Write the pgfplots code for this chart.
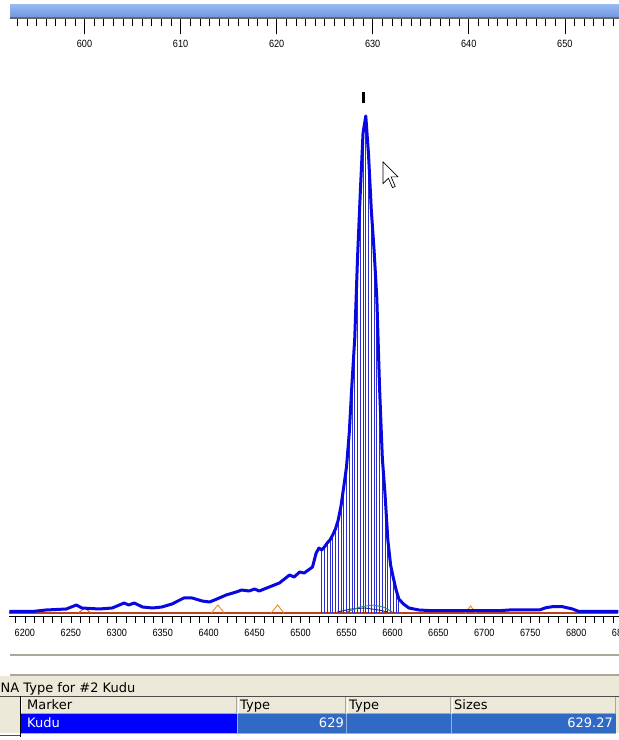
\documentclass[border=0pt]{standalone}
\usepackage{pgfplots}
\pgfplotsset{compat=1.18}
\usepackage{pgfplotstable}
\usepackage{fontspec}
\setmainfont{DejaVu Sans}
\newfontfamily\tickfont[FakeStretch=0.87]{Liberation Sans}
\newfontfamily\uifont{DejaVu Sans}
\definecolor{trace}{RGB}{8,8,225}
\definecolor{stick}{RGB}{45,45,205}
\definecolor{basered}{RGB}{192,62,30}
\definecolor{humporange}{RGB}{228,140,40}
\definecolor{humpgreen}{RGB}{40,140,115}
\definecolor{humpnavy}{RGB}{25,35,120}
\definecolor{barlight}{RGB}{150,184,240}
\definecolor{bardark}{RGB}{112,150,222}
\definecolor{beige}{RGB}{236,233,216}
\definecolor{bordergray}{RGB}{172,168,153}
\definecolor{selblue}{RGB}{0,0,255}
\definecolor{rowblue}{RGB}{49,106,197}
\definecolor{rowsep}{RGB}{150,175,225}

\pgfplotstableread{
x y
6183 1.5
6208 1.5
6223 3
6245 4
6256 8
6262 5
6281 4
6295 5
6308 10
6313 8
6319 10
6328 6
6339 5
6349 6
6360 9
6373 15
6382 15
6393 12
6401 11
6409 14
6419 18
6430 21
6436 23
6444 22
6450 24
6455 22
6466 26
6477 30
6488 38
6493 36
6499 41
6504 40
6513 46
6517 60
6520 65
6523 63
6526 66
6529 70
6532 73
6535 78
6538 84
6541 93
6544 107
6547 126
6550 146
6553 180
6556 230
6559 275
6562 355
6565 420
6568 480
6571 497
6574 458
6577 403
6580 363
6583 315
6586 225
6589 155
6592 118
6595 73
6598 48
6601 35
6604 23
6607 14
6612 9
6618 5
6629 3
6643 2.3
6716 2.3
6727 3
6760 3
6767 5.3
6774 6.3
6785 6.3
6796 4
6803 1.5
6846 1.5
}\tracedata

\begin{document}
\begin{tikzpicture}[x=1pt,y=1pt]
\useasboundingbox (0,0) rectangle (619,740);
\fill[white] (0,0) rectangle (619,740);

% main electropherogram
\begin{axis}[at={(10,124)}, anchor=south west, scale only axis,
  width=614.8pt, height=543pt, xmin=6182.9, xmax=6852, ymin=-3, ymax=540,
  axis x line*=bottom, axis y line=none, axis line style={black, line width=0.6pt},
  xtick={6200,6250,...,6850}, minor xtick={6190,6200,...,6850},
  tick align=outside, major tick length=7pt, minor tick length=7pt,
  tick style={black, line width=0.6pt},
  /pgf/number format/assume math mode=true,
  /pgf/number format/set thousands separator={},
  xticklabel style={font=\tickfont\fontsize{10.5}{10.5}\selectfont, inner sep=0pt, anchor=north, yshift=-6pt},
  clip=false]
  % red baseline
  \addplot[basered, line width=2.5pt] coordinates {(6182.9,0) (6846,0)};
  % small coloured peaks near baseline
  \addplot[humporange, line width=0.9pt] coordinates {(6403,0) (6410,8) (6417,0)};
  \addplot[humporange, line width=0.9pt] coordinates {(6468,0) (6475,8) (6482,0)};
  \addplot[humporange, line width=0.9pt] coordinates {(6679,0) (6685,7) (6691,0)};
  \addplot[humporange!60!red, line width=0.9pt] coordinates {(6258,0) (6265,5) (6272,0)};
  % filled sticks under the peak
  \addplot[ycomb, stick, line width=0.9pt, restrict x to domain=6521:6608] table[x=x, y=y] {\tracedata};
  \addplot[humpnavy, line width=0.9pt] coordinates {(6540,1) (6555,4) (6570,5) (6585,3) (6595,1)};
  \addplot[humpgreen, line width=0.9pt] coordinates {(6550,1) (6565,6) (6578,8) (6590,6) (6600,1)};
  % trace
  \addplot[trace, line width=3pt, line join=round] table[x=x, y=y] {\tracedata};
  % peak label marker
  \addplot[black, line width=3pt] coordinates {(6569,510) (6569,521)};
\end{axis}

% top ruler (size scale)
\begin{scope}[yshift=721.5pt]
\begin{axis}[at={(10,0)}, anchor=south west, scale only axis,
  width=609pt, height=12pt, xmin=592.2, xmax=655.6, ymin=0, ymax=12,
  axis x line*=bottom, axis y line=none,
  axis line style={black!60, line width=0.6pt},
  xtick={600,610,...,650}, minor xtick={593,594,...,655},
  tick align=outside, major tick length=16pt, minor tick length=8pt,
  tick style={black, line width=0.6pt},
  /pgf/number format/assume math mode=true,
  /pgf/number format/set thousands separator={},
  xticklabel style={font=\tickfont\fontsize{10.5}{10.5}\selectfont, inner sep=0pt, anchor=north, yshift=-5pt}]
  \addplot[draw=none, mark=none] coordinates {(592.2,0) (655.6,12)};
\end{axis}
\end{scope}
% top ruler bar
\shade[top color=barlight, bottom color=bardark] (10,735) rectangle (619,722.5);
\draw[color=bardark!70!black, line width=0.6pt] (10,722.5) -- (619,722.5);

% mouse cursor
\draw[black, fill=white, line width=0.7pt, line join=miter]
  (383,578) -- (383,556.4) -- (388.4,561.8) -- (392.5,552.3) -- (395.2,553.7)
  -- (391.1,563.1) -- (397.9,563.1) -- cycle;

% separator lines
\draw[bordergray, line width=1.5pt] (10,85) -- (619,85);
\draw[bordergray, line width=1.5pt] (10,65) -- (619,65);

% table area
\fill[beige] (0,0) rectangle (619,64);
\node[anchor=base west, inner sep=0pt, font=\uifont\fontsize{13}{13}\selectfont] at (0.5,47.5) {NA Type for \#2 Kudu};
% header row
\fill[beige] (0,26) rectangle (619,44);
\foreach \a/\b in {20/237, 237/346, 346/451, 451/616} {
  \draw[white, line width=0.8pt] (\a+1,26.5) -- (\a+1,43.5) -- (\b-1,43.5);
  \draw[bordergray, line width=1pt] (\a+1,26.5) -- (\b-0.5,26.5) -- (\b-0.5,43.5);
}
\draw[black!70, line width=0.8pt] (0,44) -- (619,44);
\node[anchor=base west, inner sep=0pt, font=\uifont\fontsize{13}{13}\selectfont] at (27,30.5) {Marker};
\node[anchor=base west, inner sep=0pt, font=\uifont\fontsize{13}{13}\selectfont] at (240,30.5) {Type};
\node[anchor=base west, inner sep=0pt, font=\uifont\fontsize{13}{13}\selectfont] at (349,30.5) {Type};
\node[anchor=base west, inner sep=0pt, font=\uifont\fontsize{13}{13}\selectfont] at (454,30.5) {Sizes};
% data row
\fill[white] (0,0) rectangle (619,7);
\fill[beige] (0,7) rectangle (20,26);
\fill[selblue] (20,7) rectangle (237,26);
\fill[rowblue] (237,7) rectangle (616,26);
\draw[rowsep, line width=0.8pt] (237,7) -- (237,26);
\draw[rowsep, line width=0.8pt] (346,7) -- (346,26);
\draw[rowsep, line width=0.8pt] (451,7) -- (451,26);
\draw[rowsep, line width=0.8pt] (20,7) -- (616,7);
\draw[black, line width=1pt] (20,3) -- (20,44);
\draw[black!70, line width=0.8pt] (0,5) -- (20,5);
\node[anchor=base west, inner sep=0pt, text=white, font=\uifont\fontsize{13}{13}\selectfont] at (27,12.5) {Kudu};
\node[anchor=base east, inner sep=0pt, text=white, font=\uifont\fontsize{13}{13}\selectfont] at (344,12.5) {629};
\node[anchor=base east, inner sep=0pt, text=white, font=\uifont\fontsize{13}{13}\selectfont] at (613,12.5) {629.27};
\end{tikzpicture}
\end{document}
